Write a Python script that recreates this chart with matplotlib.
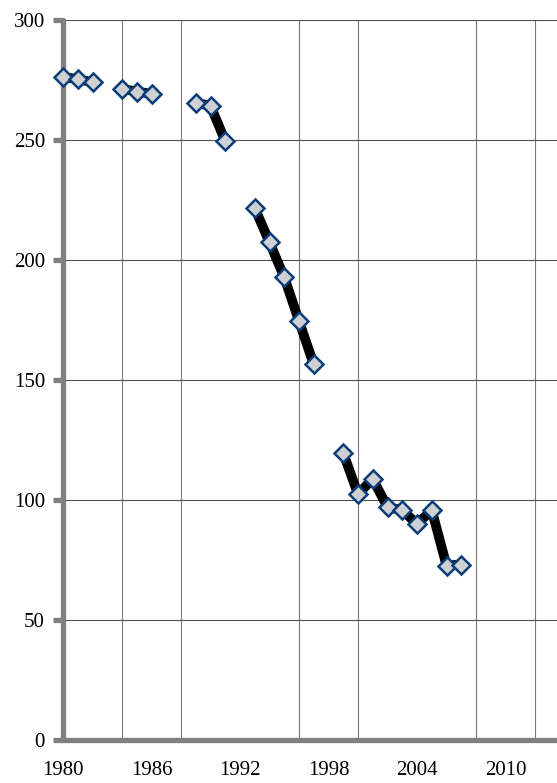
import numpy as np
import matplotlib
matplotlib.use("Agg")
import matplotlib.pyplot as plt
from matplotlib.ticker import MultipleLocator

# data (NaN = gap in series)
years = list(range(1980, 2008))
values = [276.3, 275.3, 274.1, np.nan, 271.3, 270.2, 269.2, np.nan, np.nan,
          265.5, 264.3, 249.5, np.nan, 221.6, 207.4, 192.8, 174.6, 156.5,
          np.nan, 119.6, 102.4, 108.8, 97.0, 95.8, 90.0, 95.8, 72.7, 73.1]
x_labels = [1980, 1986, 1992, 1998, 2004, 2010]
y_ticks = [0, 50, 100, 150, 200, 250, 300]

plt.rcParams['font.family'] = ['Liberation Serif', 'DejaVu Serif']

fig = plt.figure(figsize=(5.57, 7.83), dpi=100)
ax = fig.add_axes([63 / 557, 43 / 783, 501.5 / 557, 720 / 783])

ax.plot(years, values, color='black', linewidth=7, solid_capstyle='butt',
        zorder=4, clip_on=False)
ax.plot(years, values, linestyle='none', marker='D', markersize=9.5,
        markerfacecolor='#cfd0d2', markeredgecolor='#0b3d78',
        markeredgewidth=1.8, zorder=5, clip_on=False)

ax.set_xlim(1980, 2014)
ax.set_ylim(0, 300)

# gridlines: horizontal every 50, vertical every 4 years
ax.xaxis.set_minor_locator(MultipleLocator(4))
ax.set_xticks(x_labels)
ax.set_yticks(y_ticks)
ax.grid(True, axis='y', which='major', color='#505050', linewidth=0.8)
ax.grid(True, axis='x', which='minor', color='#7a7a7a', linewidth=0.8)
ax.set_axisbelow(True)

for side in ['top', 'right']:
    ax.spines[side].set_visible(False)
for side in ['left', 'bottom']:
    ax.spines[side].set_color('#808080')
    ax.spines[side].set_linewidth(3.8)
    ax.spines[side].set_capstyle('round')
    ax.spines[side].set_zorder(3)

ax.tick_params(axis='y', length=7, width=3.8, color='#808080', pad=6,
               labelsize=15)
ax.tick_params(axis='x', which='both', length=0, pad=15, labelsize=15)
for t in ax.yaxis.get_major_ticks():
    t.tick1line.set_solid_capstyle('round')

fig.savefig('out.png', dpi=100)
